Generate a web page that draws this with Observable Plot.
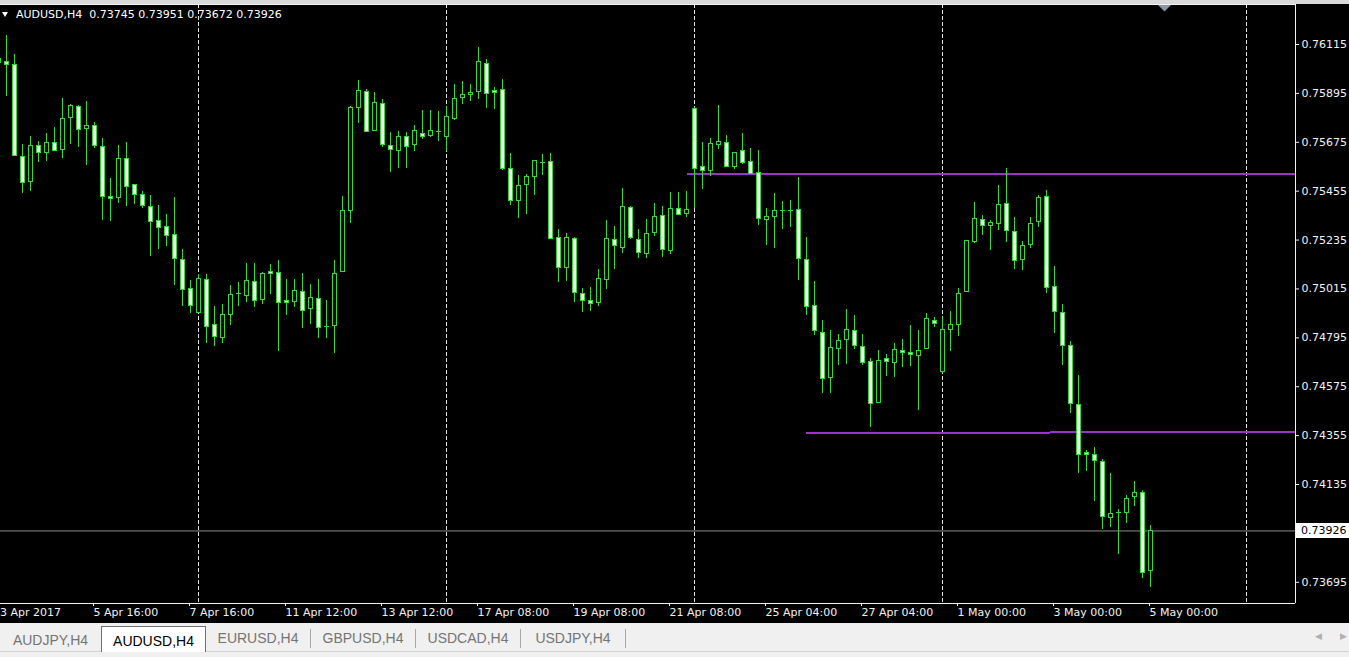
<!DOCTYPE html>
<html>
<head>
<meta charset="utf-8">
<script src="https://cdn.jsdelivr.net/npm/d3@7"></script>
<script src="https://cdn.jsdelivr.net/npm/@observablehq/plot@0.6"></script>
<style>
html,body{margin:0;padding:0;background:#f0f0f0;overflow:hidden;}
#wrap{position:relative;width:1349px;height:657px;overflow:hidden;}
#strip{height:4px;background:#d9d9d9;}
#chart svg{display:block;}
#hdr{position:absolute;left:2px;top:8px;color:#fff;font:11px "DejaVu Sans";white-space:pre;line-height:13px;}
#hdr .tri{display:inline-block;width:0;height:0;border-left:3px solid transparent;border-right:3px solid transparent;border-top:5px solid #fff;margin-right:8px;vertical-align:1px;}
#bid{position:absolute;left:1296px;width:53px;height:15px;background:#fff;color:#000;font:11px "DejaVu Sans";line-height:15px;padding-left:5px;box-sizing:border-box;}
#tabs{position:absolute;left:0;top:623px;width:1349px;height:34px;background:#f0f0f0;}
#tabs .line{position:absolute;left:0;top:28px;width:1349px;height:1px;background:#d2d2d2;}
#tabs .tab{position:absolute;top:3px;height:25px;box-sizing:border-box;text-align:center;font:14px "Liberation Sans";line-height:25px;padding-top:2px;color:#747474;}
#tabs .tab.sep{border-right:1px solid #a8a8a8;height:19px;margin-top:3px;line-height:19px;padding-top:0;}
#tabs .tab.active{background:#fff;border:1px solid #707070;border-bottom:none;color:#000;height:26px;}
#tabs .arr{position:absolute;top:8px;color:#b0b0b0;font:9px "DejaVu Sans";}
</style>
</head>
<body>
<div id="wrap">
  <div id="strip"></div>
  <div id="chart"></div>
  <div id="hdr"></div>
  <div id="bid"></div>
  <div id="tabs"><div class="line"></div></div>
</div>
<script>
// ---------------- data ----------------
const symbol = "AUDUSD";
const period = "H4";
const firstBar = -1; // index of the first (partially visible) bar

const open = [0.76048,0.76037,0.76021,0.75611,0.75495,0.75659,0.75628,0.75673,0.75641,0.75783,
0.75836,0.75736,0.75749,0.75655,0.75431,0.75424,0.75602,0.75481,0.75440,0.75386,
0.75322,0.75292,0.75259,0.75146,0.75013,0.74906,0.75056,0.74854,0.74793,0.74899,
0.74993,0.74982,0.75045,0.74966,0.75092,0.75088,0.74962,0.74955,0.75000,0.74926,
0.74971,0.74846,0.74849,0.75092,0.75365,0.75830,0.75902,0.75727,0.75848,0.75659,
0.75636,0.75700,0.75662,0.75713,0.75702,0.75725,0.75698,0.75778,0.75875,0.75887,
0.75900,0.76028,0.75908,0.75909,0.75556,0.75410,0.75482,0.75520,0.75584,0.75587,
0.75245,0.75108,0.75239,0.74993,0.74962,0.74952,0.75056,0.75236,0.75198,0.75380,
0.75236,0.75171,0.75266,0.75344,0.75185,0.75376,0.75351,0.75826,0.75565,0.75545,
0.75662,0.75673,0.75563,0.75634,0.75587,0.75538,0.75324,0.75338,0.75367,0.75367,
0.75371,0.75146,0.74939,0.74818,0.74615,0.74746,0.74784,0.74827,0.74755,0.74687,
0.74503,0.74698,0.74683,0.74737,0.74725,0.74714,0.74744,0.74872,0.74640,0.74829,
0.74852,0.75000,0.75225,0.75326,0.75297,0.75307,0.75398,0.75272,0.75146,0.75214,
0.75315,0.75430,0.75025,0.74906,0.74759,0.74494,0.74279,0.74267,0.74237,0.73985,
0.74010,0.74008,0.74078,0.74098,0.73745];

const high = [0.76066,0.76156,0.76070,0.75665,0.75701,0.75679,0.75716,0.75742,0.75872,0.75845,
0.75840,0.75859,0.75763,0.75693,0.75513,0.75659,0.75673,0.75485,0.75454,0.75436,
0.75392,0.75350,0.75427,0.75193,0.75053,0.75080,0.75080,0.74936,0.74944,0.75031,
0.75043,0.75130,0.75130,0.75090,0.75125,0.75142,0.75058,0.75058,0.75085,0.75035,
0.75058,0.74962,0.75142,0.75430,0.75835,0.75953,0.75913,0.75898,0.75868,0.75718,
0.75724,0.75718,0.75749,0.75818,0.75818,0.75814,0.75836,0.75935,0.75947,0.75935,
0.76102,0.76048,0.75922,0.75956,0.75623,0.75526,0.75529,0.75593,0.75620,0.75623,
0.75283,0.75265,0.75245,0.75016,0.75023,0.75103,0.75323,0.75296,0.75467,0.75386,
0.75283,0.75328,0.75400,0.75386,0.75449,0.75449,0.75452,0.75833,0.75674,0.75693,
0.75841,0.75706,0.75630,0.75715,0.75647,0.75638,0.75377,0.75445,0.75409,0.75413,
0.75515,0.75245,0.75047,0.74872,0.74827,0.74809,0.74921,0.74896,0.74810,0.74703,
0.74738,0.74719,0.74770,0.74788,0.74851,0.74829,0.74905,0.74885,0.74887,0.74914,
0.75017,0.75233,0.75403,0.75344,0.75323,0.75480,0.75557,0.75335,0.75229,0.75335,
0.75437,0.75458,0.75115,0.74944,0.74777,0.74626,0.74289,0.74302,0.74249,0.74183,
0.74024,0.74086,0.74149,0.74108,0.73951];

const low = [0.75998,0.75882,0.75610,0.75446,0.75455,0.75585,0.75590,0.75632,0.75601,0.75666,
0.75653,0.75572,0.75646,0.75323,0.75320,0.75401,0.75387,0.75395,0.75376,0.75162,
0.75191,0.75207,0.75031,0.74937,0.74906,0.74903,0.74771,0.74757,0.74771,0.74851,
0.74937,0.74954,0.74933,0.74944,0.74990,0.74734,0.74896,0.74933,0.74838,0.74856,
0.74793,0.74793,0.74723,0.75088,0.75311,0.75761,0.75720,0.75727,0.75653,0.75540,
0.75558,0.75558,0.75634,0.75686,0.75698,0.75680,0.75632,0.75773,0.75845,0.75859,
0.75869,0.75827,0.75823,0.75548,0.75389,0.75333,0.75349,0.75436,0.75526,0.75236,
0.75045,0.75050,0.74955,0.74908,0.74915,0.74937,0.75013,0.75103,0.75176,0.75239,
0.75153,0.75153,0.75252,0.75158,0.75169,0.75349,0.75338,0.75376,0.75463,0.75521,
0.75644,0.75562,0.75553,0.75574,0.75530,0.75301,0.75212,0.75198,0.75281,0.75290,
0.75055,0.74897,0.74807,0.74543,0.74546,0.74672,0.74676,0.74744,0.74669,0.74393,
0.74501,0.74622,0.74617,0.74662,0.74667,0.74469,0.74741,0.74843,0.74633,0.74735,
0.74801,0.74999,0.75221,0.75257,0.75188,0.75278,0.75225,0.75104,0.75099,0.75197,
0.75293,0.74996,0.74816,0.74672,0.74453,0.74186,0.74192,0.74060,0.73934,0.73943,
0.73821,0.73961,0.74037,0.73713,0.73672];

const close = [0.76034,0.76022,0.75612,0.75491,0.75659,0.75628,0.75673,0.75635,0.75782,0.75839,
0.75731,0.75749,0.75657,0.75430,0.75421,0.75598,0.75473,0.75439,0.75387,0.75315,
0.75290,0.75252,0.75149,0.75011,0.74937,0.75061,0.74843,0.74798,0.74899,0.74989,
0.74993,0.75052,0.74962,0.75083,0.75081,0.74951,0.74951,0.75007,0.74917,0.74975,
0.74840,0.74846,0.75083,0.75367,0.75830,0.75904,0.75722,0.75853,0.75662,0.75641,
0.75700,0.75655,0.75724,0.75700,0.75727,0.75725,0.75790,0.75871,0.75890,0.75898,
0.76037,0.75893,0.75896,0.75554,0.75412,0.75479,0.75517,0.75589,0.75584,0.75239,
0.75108,0.75245,0.74998,0.74963,0.74948,0.75062,0.75241,0.75209,0.75386,0.75243,
0.75178,0.75263,0.75341,0.75189,0.75376,0.75349,0.75371,0.75556,0.75545,0.75668,
0.75677,0.75565,0.75629,0.75581,0.75533,0.75331,0.75341,0.75364,0.75367,0.75367,
0.75150,0.74935,0.74827,0.74611,0.74750,0.74782,0.74831,0.74757,0.74683,0.74498,
0.74692,0.74685,0.74741,0.74726,0.74719,0.74737,0.74881,0.74856,0.74831,0.74851,
0.74993,0.75229,0.75331,0.75297,0.75314,0.75395,0.75275,0.75142,0.75209,0.75308,
0.75425,0.75020,0.74912,0.74759,0.74498,0.74269,0.74267,0.74242,0.73990,0.74003,
0.74010,0.74071,0.74098,0.73738,0.73926];

// time axis labels (bar index -> label)
const timeTickBars = [-1, 11, 23, 35, 47, 59, 71, 83, 95, 107, 119, 131, 143];
const timeTickLabels = ["3 Apr 2017","5 Apr 16:00","7 Apr 16:00","11 Apr 12:00","13 Apr 12:00",
  "17 Apr 08:00","19 Apr 08:00","21 Apr 08:00","25 Apr 04:00","27 Apr 04:00",
  "1 May 00:00","3 May 00:00","5 May 00:00"];

// price axis labels
const priceTicks = [0.76115,0.75895,0.75675,0.75455,0.75235,0.75015,0.74795,0.74575,0.74355,0.74135,0.73695];

// week separators (bar indices)
const separatorBars = [24, 55, 86, 117, 155];

// trend lines drawn on the chart (start bar, start price, end price; extended to the right edge)
const trendStartBar = [85, 100];
const trendStartPrice = [0.75532, 0.74367];
const trendEndPrice = [0.75532, 0.74371];

// visible window of the chart (bars / prices)
const viewBars = [-0.75, 161.125];
const viewPrices = [0.735995, 0.76295];
const shiftMarkerBar = 144.75;
const shiftMarkerPrice = 0.76278;

// ---------------- build ----------------
const candles = open.map((o, i) => ({bar: firstBar + i, open: o, high: high[i], low: low[i], close: close[i]}));
const bears = candles.filter(d => d.close < d.open);
const bulls = candles.filter(d => d.close > d.open);
const dojis = candles.filter(d => d.close === d.open);
const last = candles[candles.length - 1];
const labelOf = new Map(timeTickBars.map((b, i) => [b, timeTickLabels[i]]));
const trends = trendStartBar.map((b, i) => ({b, p1: trendStartPrice[i], p2: trendEndPrice[i]}));
const firstTick = timeTickBars.filter(b => b < viewBars[0]);
const otherTicks = timeTickBars.filter(b => b >= viewBars[0]);

const green = "#2fdc2f";
const bearFill = "#f2fff2";
const fg = "#f2f2f2";

const flatDown = {
  draw(ctx) { ctx.moveTo(-6.5, -3.3); ctx.lineTo(6.5, -3.3); ctx.lineTo(0, 3.3); ctx.closePath(); }
};

const chart = Plot.plot({
  width: 1349,
  height: 619,
  marginLeft: 0,
  marginRight: 54,
  marginTop: 0,
  marginBottom: 20,
  style: {background: "#000", color: fg, fontFamily: "DejaVu Sans", fontSize: "11px", overflow: "hidden"},
  x: {domain: viewBars, label: null},
  y: {domain: viewPrices, label: null},
  marks: [
    Plot.ruleX(separatorBars, {stroke: "#e6e6e6", strokeDasharray: "4,2"}),
    Plot.ruleY([last.close], {stroke: "#8c8c8c"}),
    Plot.link(trends, {x1: "b", y1: "p1", x2: () => viewBars[1], y2: "p2", stroke: "#9933cc", strokeWidth: 2, shapeRendering: "crispEdges"}),
    Plot.ruleX(candles, {x: "bar", y1: "low", y2: "high", stroke: green, shapeRendering: "crispEdges"}),
    Plot.rect(bulls, {x1: d => d.bar - 0.25, x2: d => d.bar + 0.25, y1: "open", y2: "close", fill: "#000", stroke: green, shapeRendering: "crispEdges"}),
    Plot.rect(bears, {x1: d => d.bar - 0.25, x2: d => d.bar + 0.25, y1: "open", y2: "close", fill: bearFill, stroke: green, shapeRendering: "crispEdges"}),
    Plot.ruleY(dojis, {y: "close", x1: d => d.bar - 0.3125, x2: d => d.bar + 0.3125, stroke: green, shapeRendering: "crispEdges"}),
    Plot.ruleY([viewPrices[1], viewPrices[0]], {stroke: fg}),
    Plot.ruleX([viewBars[1]], {stroke: fg}),
    Plot.dot([0], {x: () => shiftMarkerBar, y: () => shiftMarkerPrice, symbol: flatDown, fill: "#8a97a4", stroke: null}),
    Plot.axisY(priceTicks, {anchor: "right", label: null, tickSize: 3, tickPadding: 3, tickFormat: d3.format(".5f"), fill: fg, stroke: fg}),
    Plot.axisX(otherTicks, {anchor: "bottom", label: null, tickSize: 3, tickPadding: 2, tickFormat: d => labelOf.get(d), textAnchor: "start", dx: -1, fill: fg, stroke: fg}),
    Plot.axisX(firstTick, {anchor: "bottom", label: null, tickSize: 0, tickPadding: 5, tickFormat: d => labelOf.get(d), textAnchor: "start", dx: 1.5, fill: fg, stroke: fg})
  ]
});
document.getElementById("chart").appendChild(chart);

// header
const f5 = d3.format(".5f");
const hdr = document.getElementById("hdr");
hdr.innerHTML = '<span class="tri"></span>' + `${symbol},${period}  ${f5(last.open)} ${f5(last.high)} ${f5(last.low)} ${f5(last.close)}`;

// bid price label on the price scale
const yScale = chart.scale("y");
const bid = document.getElementById("bid");
bid.textContent = f5(last.close);
bid.style.top = (4 + yScale.apply(last.close) + 0.5 - 7.5) + "px";

// symbol tabs
const tabNames = ["AUDJPY,H4","AUDUSD,H4","EURUSD,H4","GBPUSD,H4","USDCAD,H4","USDJPY,H4"];
const activeTab = 1;
const tabs = document.getElementById("tabs");
let left = 0;
tabNames.forEach((name, i) => {
  const w = i === 0 ? 101 : 105;
  const t = document.createElement("div");
  t.className = "tab" + (i === activeTab ? " active" : (i > activeTab ? " sep" : ""));
  t.style.left = left + "px";
  t.style.width = w + "px";
  t.textContent = name;
  tabs.appendChild(t);
  left += w;
});
["\u25C0", "\u25B6"].forEach((a, i) => {
  const s = document.createElement("div");
  s.className = "arr";
  s.style.left = (1315 + i * 25) + "px";
  s.textContent = a;
  tabs.appendChild(s);
});
</script>
</body>
</html>
